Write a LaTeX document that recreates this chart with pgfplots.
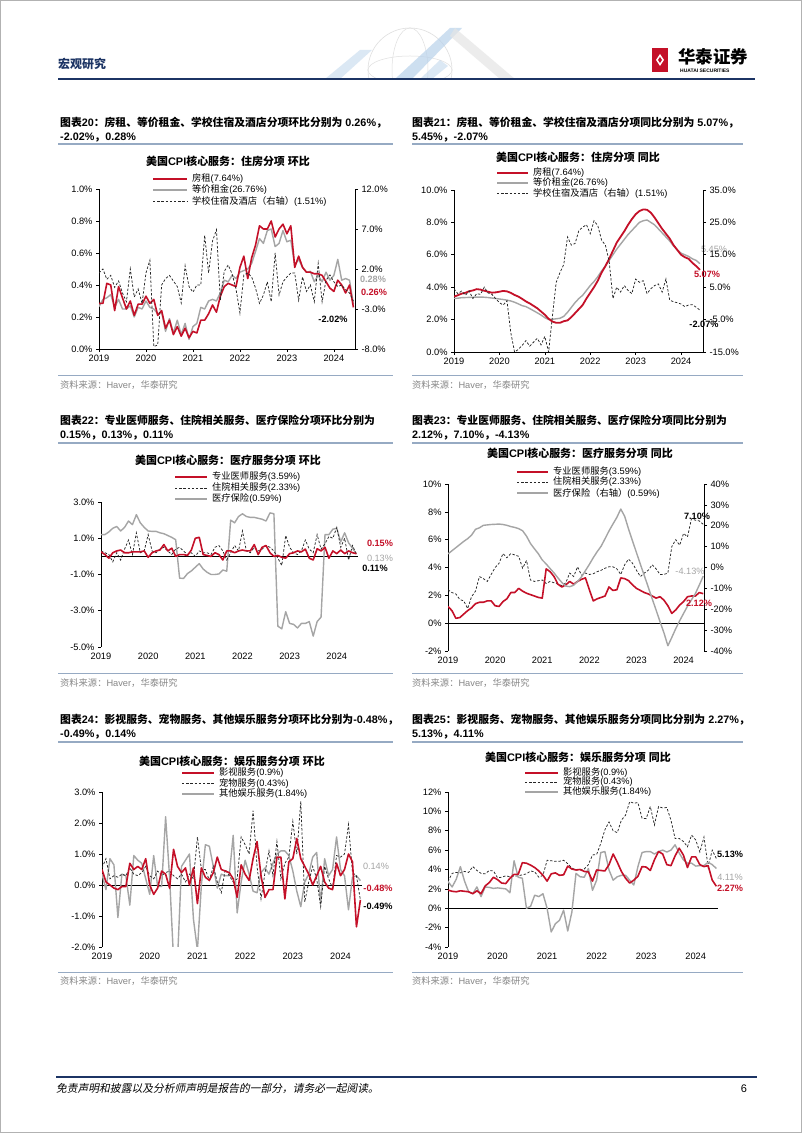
\documentclass[border=0pt]{standalone}
\usepackage{fontspec}
\setmainfont{Liberation Sans}
\newfontfamily\lat{Liberation Sans}
\newfontfamily\cjk[ItalicFont={Noto Sans CJK SC},ItalicFeatures={FakeSlant=0.2}]{Noto Sans CJK SC}
\usepackage{pgfplots}
\usepackage{pgfplotstable}
\pgfplotsset{compat=1.18}
\XeTeXinterchartokenstate=1
\newXeTeXintercharclass\CJKcls
\newcount\cc
\cc="3000 \loop\ifnum\cc<"3040 \XeTeXcharclass\cc=\CJKcls \advance\cc 1 \repeat
\cc="4E00 \loop\ifnum\cc<"A000 \XeTeXcharclass\cc=\CJKcls \advance\cc 1 \repeat
\cc="FF00 \loop\ifnum\cc<"FFF0 \XeTeXcharclass\cc=\CJKcls \advance\cc 1 \repeat
\XeTeXinterchartoks 0 \CJKcls = {\cjk}
\XeTeXinterchartoks 4095 \CJKcls = {\cjk}
\XeTeXinterchartoks \CJKcls 0 = {\lat}
\XeTeXinterchartoks \CJKcls 4095 = {\lat}

\definecolor{hred}{RGB}{196,16,40}
\definecolor{hgray}{RGB}{165,165,165}
\definecolor{navy}{RGB}{28,52,100}
\definecolor{capline}{RGB}{150,170,195}
\definecolor{srcgray}{RGB}{135,135,135}
\definecolor{lblue}{RGB}{185,210,235}

\newcommand{\capf}{\bfseries\fontsize{10.85}{12}\selectfont}
\newcommand{\titf}{\bfseries\fontsize{11}{12}\selectfont}
\newcommand{\legf}{\fontsize{9.3}{10}\selectfont}
\newcommand{\srcf}{\fontsize{9.3}{10}\selectfont}
\newcommand{\valf}{\bfseries\fontsize{9.2}{10}\selectfont}
\newcommand{\valr}{\fontsize{9.2}{10}\selectfont}

\tikzset{redline/.style={color=hred, line width=1.6bp, line join=round},
grayline/.style={color=hgray, line width=1.4bp, line join=round},
dashline/.style={color=black!85, line width=0.75bp, dash pattern=on 2.4bp off 1.8bp}}

\pgfplotsset{
hb/.style={scale only axis, xmin=0, xmax=65.4,
 xtick={0,12,24,36,48,60}, xticklabels={2019,2020,2021,2022,2023,2024},
 axis x line*=bottom, axis y line*=left, axis line style={-,black,line width=0.7bp},
 tick align=outside, major tick length=3bp, tick style={black,line width=0.6bp},
 tick label style={font=\fontsize{9.3}{10}\selectfont, black}, clip=true},
hr/.style={scale only axis, xmin=0, xmax=65.4, axis x line=none, axis y line*=right,
 axis line style={-,black,line width=0.7bp},
 tick align=outside, major tick length=3bp, tick style={black,line width=0.6bp},
 tick label style={font=\fontsize{9.3}{10}\selectfont, black}, clip=true},
zl/.style={x axis line style={draw=none}, xtick style={draw=none},
 extra y ticks={0}, extra y tick labels={}, extra y tick style={grid=major, major grid style={black,line width=0.8bp}, tick style={draw=none}}}
}

\newcommand{\legrow}[5]{\draw[#4] (#1,1133-#3) -- (#2,1133-#3);
 \node[anchor=west,inner sep=0pt,font=\legf] at (#2+5,1133-#3) {#5};}

% ---------- data (month index 0 = Jan 2019) ----------
\pgfplotstableread{
m a b c
0 0.285 0.265 1.5
1 0.285 0.31 2.0
2 0.41 0.32 0.7
3 0.40 0.34 1.2
4 0.24 0.26 -0.3
5 0.39 0.31 0.5
6 0.32 0.25 -1.0
7 0.25 0.25 -2.1
8 0.30 0.27 2.0
9 0.21 0.20 -1.5
10 0.28 0.26 -0.5
11 0.28 0.25 -2.3
12 0.33 0.30 1.5
13 0.285 0.26 3.1
14 0.31 0.25 -7.7
15 0.21 0.22 -7.5
16 0.24 0.23 0.0
17 0.13 0.11 0.8
18 0.18 0.19 1.2
19 0.09 0.10 0.5
20 0.14 0.18 -0.2
21 0.08 0.09 -2.25
22 0.13 0.16 2.4
23 0.07 0.06 -0.2
24 0.11 0.14 -0.9
25 0.10 0.16 0.0
26 0.18 0.26 0.0
27 0.18 0.25 6.2
28 0.22 0.30 1.5
29 0.275 0.31 5.5
30 0.23 0.30 6.9
31 0.33 0.35 -1.9
32 0.39 0.43 1.7
33 0.41 0.42 2.5
34 0.40 0.46 1.4
35 0.39 0.44 -0.5
36 0.51 0.48 -3.5
37 0.58 0.49 1.25
38 0.44 0.50 1.5
39 0.57 0.535 1.0
40 0.65 0.61 -0.4
41 0.77 0.69 -2.3
42 0.75 0.66 -1.25
43 0.75 0.74 0.4
44 0.80 0.75 -2.1
45 0.70 0.64 4.0
46 0.75 0.66 -1.25
47 0.78 0.74 0.4
48 0.72 0.67 1.0
49 0.77 0.68 1.5
50 0.51 0.525 1.5
51 0.58 0.56 -1.9
52 0.51 0.51 1.0
53 0.48 0.48 -0.8
54 0.48 0.485 0.0
55 0.47 0.42 -2.1
56 0.47 0.46 2.7
57 0.46 0.42 -2.1
58 0.42 0.48 0.6
59 0.38 0.43 1.25
60 0.36 0.46 0.4
61 0.43 0.56 -0.2
62 0.40 0.43 0.0
63 0.35 0.44 -0.6
64 0.40 0.43 -1.0
65 0.26 0.28 -2.02
}\tA

\pgfplotstableread{
m a b c
0 3.42 3.30 4.5
1 3.50 3.32 3.0
2 3.60 3.35 3.8
3 3.65 3.36 2.5
4 3.75 3.37 3.8
5 3.80 3.38 1.5
6 3.88 3.39 3.0
7 3.85 3.39 2.8
8 3.78 3.38 5.0
9 3.72 3.36 3.2
10 3.66 3.33 2.8
11 3.68 3.30 1.5
12 3.72 3.27 0.2
13 3.77 3.24 -0.5
14 3.74 3.20 0.8
15 3.65 3.15 -9.0
16 3.52 3.07 -15.0
17 3.42 2.97 -14.2
18 3.28 2.86 -13.0
19 3.12 2.80 -11.5
20 3.00 2.68 -13.2
21 2.85 2.55 -12.0
22 2.70 2.42 -10.8
23 2.50 2.28 -12.8
24 2.30 2.12 -10.2
25 2.05 2.00 -15.0
26 1.88 2.02 -4.0
27 1.80 2.05 6.5
28 1.80 2.08 9.5
29 1.90 2.20 12.0
30 1.95 2.45 20.5
31 2.15 2.75 18.0
32 2.40 3.05 18.5
33 2.65 3.30 22.5
34 2.90 3.50 23.5
35 3.30 3.80 24.3
36 3.65 4.10 21.5
37 4.00 4.35 25.5
38 4.40 4.65 24.0
39 4.90 5.00 19.5
40 5.30 5.30 18.0
41 5.75 5.65 13.0
42 6.25 6.00 1.5
43 6.75 6.35 5.0
44 7.10 6.65 3.5
45 7.45 6.95 5.5
46 7.85 7.25 4.0
47 8.20 7.50 3.0
48 8.50 7.75 7.5
49 8.70 8.00 6.5
50 8.80 8.10 7.0
51 8.78 8.15 3.0
52 8.60 8.00 4.5
53 8.30 7.85 5.5
54 7.95 7.60 6.0
55 7.60 7.35 3.5
56 7.30 7.10 7.5
57 7.00 6.85 1.0
58 6.60 6.55 0.5
59 6.30 6.30 0.2
60 6.00 6.10 -0.2
61 5.85 6.00 -1.0
62 5.75 5.90 -0.5
63 5.50 5.75 -0.4
64 5.30 5.65 -1.2
65 5.07 5.45 -2.07
}\tB

\pgfplotstableread{
m a b c
0 0.25 0.3 1.2
1 0.1 0.2 1.2
2 -0.1 0.1 1.35
3 0.2 -0.3 1.55
4 0.3 0.2 1.65
5 0.35 -0.2 1.4
6 0.2 0.4 1.6
7 0.2 0.9 1.95
8 0.25 0.1 1.75
9 0.25 1.3 2.3
10 0.25 0.2 1.85
11 0.3 0.3 1.6
12 -0.05 1.2 1.4
13 0.2 0.3 1.38
14 0.3 0.2 1.38
15 0.35 0.4 1.3
16 0.65 0.5 1.25
17 0.3 0.3 1.15
18 0.45 0.1 1.05
19 0.0 0.4 0.92
20 0.1 0.5 -1.2
21 0.1 0.3 -1.22
22 0.05 0.1 -0.95
23 0.35 0.2 -0.8
24 1.0 0.0 -0.6
25 1.05 0.3 -0.4
26 0.1 0.2 -0.7
27 0.05 0.2 -0.88
28 0.0 0.1 -1.0
29 0.2 0.5 -1.0
30 0.1 0.6 -0.97
31 -0.2 0.3 -0.75
32 0.3 -0.2 -0.82
33 0.3 0.2 2.0
34 0.2 0.6 1.85
35 0.3 0.3 2.2
36 0.35 1.4 2.35
37 0.3 0.3 2.2
38 0.3 0.2 2.15
39 0.65 0.5 2.15
40 0.1 0.3 2.1
41 0.5 0.4 2.05
42 0.6 0.6 1.95
43 0.2 0.5 2.4
44 0.0 0.3 2.35
45 0.05 -0.1 -3.85
46 -0.05 -0.5 -4.0
47 -0.1 1.15 -3.05
48 0.15 0.5 -3.7
49 0.2 0.2 -3.75
50 0.3 0.1 -3.95
51 0.25 0.3 -3.7
52 0.4 0.9 -3.7
53 -0.1 0.4 -3.6
54 -0.2 0.2 -4.4
55 0.42 1.2 -3.6
56 0.3 0.4 -3.35
57 0.5 0.7 1.2
58 -0.1 1.1 1.2
59 0.3 1.0 1.5
60 0.15 1.6 1.55
61 0.35 0.5 0.8
62 0.15 1.0 1.3
63 0.3 -0.2 0.75
64 0.2 0.6 0.45
65 0.15 0.11 0.13
}\tC

\pgfplotstableread{
m a b c
0 1.2 2.4 6.5
1 0.9 2.2 8.0
2 0.35 2.1 9.5
3 0.4 1.7 11.0
4 0.65 1.6 12.5
5 0.9 1.05 13.8
6 1.1 1.9 15.5
7 1.4 2.3 18.3
8 1.5 3.35 19.0
9 1.5 3.2 20.2
10 1.6 3.0 20.4
11 1.6 3.5 20.6
12 1.25 4.0 20.7
13 1.2 4.3 20.8
14 1.55 5.0 20.6
15 1.75 4.7 20.2
16 2.2 5.0 19.6
17 2.2 4.9 19.2
18 2.5 4.8 18.6
19 2.3 3.95 17.6
20 2.15 4.5 15.0
21 2.05 3.1 11.5
22 1.95 3.0 9.0
23 1.85 3.05 6.6
24 1.8 3.1 3.6
25 3.9 2.85 1.7
26 3.7 3.0 -0.5
27 3.35 2.9 -2.6
28 2.8 2.8 -5.0
29 2.6 2.7 -7.2
30 2.75 2.9 -8.9
31 3.0 3.6 -9.2
32 2.8 3.35 -8.5
33 3.0 4.05 -6.7
34 3.15 3.45 -4.5
35 3.25 3.6 -1.5
36 2.4 3.5 1.5
37 1.6 3.55 4.7
38 1.75 3.7 7.6
39 1.85 3.8 10.2
40 1.95 3.95 13.8
41 2.6 4.05 17.5
42 2.35 4.05 20.8
43 2.4 3.9 24.0
44 3.25 3.5 28.0
45 3.2 4.2 24.5
46 3.05 4.6 18.3
47 2.75 4.3 12.7
48 2.5 3.8 7.1
49 2.35 3.35 1.5
50 2.2 3.6 -3.9
51 2.1 3.8 -9.4
52 1.95 4.2 -15.0
53 1.8 3.9 -20.4
54 1.9 3.5 -26.0
55 1.65 3.5 -31.3
56 1.25 3.6 -37.5
57 0.7 5.5 -33.5
58 0.95 6.0 -29.3
59 1.3 5.6 -25.5
60 1.55 6.45 -22.0
61 1.9 6.2 -18.5
62 1.95 7.5 -15.5
63 1.95 7.4 -12.5
64 2.2 7.35 -8.4
65 2.12 7.10 -4.13
}\tD

\pgfplotstableread{
m a b c
0 0.5 0.55 0.35
1 0.1 0.85 -0.15
2 0.0 0.2 0.85
3 -0.1 0.3 0.65
4 -0.15 0.25 -1.05
5 -0.05 0.35 0.35
6 -0.05 0.3 0.3
7 0.7 0.55 -0.65
8 0.5 0.35 0.95
9 0.6 0.3 0.8
10 0.5 0.4 0.7
11 0.85 0.6 0.2
12 0.0 0.3 -0.3
13 -0.3 0.2 0.95
14 -0.1 0.45 -0.05
15 0.45 0.3 -0.05
16 0.35 0.4 2.2
17 -0.1 0.45 0.25
18 1.15 0.3 -2.4
19 0.6 0.2 -2.4
20 0.4 0.35 0.6
21 0.55 0.1 0.8
22 0.0 0.35 1.0
23 0.55 0.2 -1.1
24 -0.6 1.55 -2.1
25 0.55 0.5 0.0
26 0.25 0.5 1.3
27 0.15 0.15 1.25
28 0.4 0.6 0.6
29 0.9 0.1 -0.1
30 0.5 -0.25 0.35
31 0.45 0.5 0.3
32 0.4 0.3 0.3
33 0.2 0.1 1.6
34 -0.4 0.2 -0.9
35 0.65 1.55 0.1
36 0.35 1.3 0.8
37 0.15 1.0 0.35
38 0.85 2.4 -0.2
39 1.4 0.6 -0.25
40 0.3 -0.45 0.4
41 -0.4 0.4 0.55
42 -0.15 1.1 0.35
43 -0.15 0.3 0.7
44 0.9 1.4 1.0
45 0.9 0.2 1.1
46 -0.45 0.7 1.1
47 0.75 0.9 0.95
48 0.85 2.05 0.45
49 1.5 1.0 -0.2
50 0.85 2.7 -0.7
51 0.6 -0.55 0.1
52 0.35 0.1 0.35
53 0.0 0.6 0.9
54 0.3 0.2 1.05
55 0.6 -0.7 -0.6
56 0.1 0.6 0.85
57 -0.1 0.2 0.3
58 -0.15 -0.1 0.5
59 0.7 0.95 1.55
60 0.3 0.9 0.5
61 0.5 1.0 0.3
62 1.0 1.95 -0.8
63 0.75 0.4 0.25
64 -1.35 0.3 0.3
65 -0.48 -0.49 0.14
}\tE

\pgfplotstableread{
m a b c
0 1.87 2.75 2.75
1 1.75 3.6 2.2
2 1.7 3.7 3.0
3 1.8 3.65 4.3
4 1.75 3.8 2.8
5 1.7 3.7 1.7
6 1.5 4.3 1.5
7 1.8 3.9 2.2
8 1.5 3.6 1.2
9 2.3 3.55 2.2
10 2.65 3.9 2.15
11 3.2 3.85 2.05
12 2.95 3.15 2.1
13 2.6 3.2 2.05
14 2.55 3.35 2.0
15 3.1 3.25 1.6
16 3.5 3.3 4.9
17 3.5 3.35 3.2
18 4.7 3.45 3.1
19 4.65 3.55 0.0
20 4.45 3.85 0.2
21 4.2 3.75 1.35
22 3.85 3.2 1.2
23 3.4 3.4 1.5
24 2.8 4.95 0.0
25 3.55 4.9 -2.45
26 3.65 4.85 -1.6
27 3.4 4.85 -1.25
28 3.45 4.95 -0.2
29 4.35 4.6 -2.35
30 4.05 4.15 -0.4
31 3.95 3.95 3.6
32 4.0 3.95 3.25
33 3.8 4.05 3.2
34 3.75 4.5 4.1
35 2.8 5.5 1.85
36 3.95 5.55 2.9
37 3.9 6.7 5.75
38 3.85 8.1 5.85
39 4.5 8.9 3.95
40 5.6 8.0 2.9
41 4.75 7.8 3.25
42 3.8 9.1 3.4
43 3.1 9.6 3.4
44 2.6 11.0 2.9
45 2.9 10.85 2.4
46 3.3 10.9 4.3
47 4.3 9.3 5.75
48 4.25 9.25 5.85
49 3.9 10.5 5.85
50 5.0 8.6 5.6
51 5.85 10.5 5.85
52 5.6 10.35 6.0
53 4.5 10.4 5.8
54 4.4 9.1 6.0
55 5.4 7.2 6.55
56 6.2 7.2 5.7
57 5.5 6.9 5.0
58 4.2 6.35 4.65
59 5.3 7.55 4.65
60 5.3 7.05 4.35
61 4.5 5.8 4.4
62 4.3 7.35 4.4
63 4.4 4.3 4.75
64 2.9 6.0 4.5
65 2.27 5.13 4.11
}\tF

\begin{document}
\begin{tikzpicture}[x=1bp,y=1bp]
\path[use as bounding box] (0,0) rectangle (802,1133);
\fill[white] (0,0) rectangle (802,1133);
\draw[gray!60, line width=1bp] (0.5,0.5) rectangle (801.5,1132.5);

% ---------- header ----------
\begin{scope}
\clip (300,1133-79) rectangle (540,1133-15);
\draw[gray!25, line width=0.6bp] (410,1133-70) circle (42);
\draw[gray!25, line width=0.5bp] (410,1133-70) ellipse (42 and 14);
\draw[gray!25, line width=0.5bp] (410,1133-70) ellipse (18 and 42);
\fill[lblue, opacity=0.5] (325,1133-79) -- (360,1133-50) -- (372,1133-50) -- (340,1133-79) -- cycle;
\fill[lblue, opacity=0.7] (395,1133-79) -- (450,1133-28) -- (462,1133-28) -- (412,1133-79) -- cycle;
\fill[gray!20, opacity=0.7] (455,1133-28) -- (515,1133-79) -- (500,1133-79) -- (450,1133-36) -- cycle;
\fill[lblue, opacity=0.5] (420,1133-79) -- (440,1133-60) -- (448,1133-66) -- (432,1133-79) -- cycle;
\end{scope}
\node[anchor=west, inner sep=0pt, text=navy, font=\bfseries\fontsize{12}{13}\selectfont] at (58,1133-64) {宏观研究};
\fill[hred] (652,1133-72) rectangle (668,1133-48);
\fill[white] (656,1133-60) -- (660,1133-54) -- (664,1133-60) -- (660,1133-66) -- cycle;
\fill[hred] (658,1133-60) -- (660,1133-57) -- (662,1133-60) -- (660,1133-63) -- cycle;
\node[anchor=west, inner sep=0pt, font=\bfseries\fontsize{17.5}{18}\selectfont] at (678,1133-57) {华泰证券};
\node[anchor=west, inner sep=0pt, font=\bfseries\fontsize{5}{5}\selectfont] at (680,1133-70.5) {HUATAI SECURITIES};
\draw[navy, line width=2bp] (58,1133-79) -- (755,1133-79);

% ---------- footer ----------
\draw[navy, line width=2bp] (56,1133-1077) -- (757,1133-1077);
\node[anchor=west, inner sep=0pt, font=\itshape\fontsize{10.8}{12}\selectfont] at (56,1133-1089) {免责声明和披露以及分析师声明是报告的一部分，请务必一起阅读。};
\node[inner sep=0pt, font=\fontsize{11}{12}\selectfont] at (744,1133-1089) {6};

% ---------- captions ----------
\node[anchor=west, inner sep=0pt, font=\capf] at (60,1133-123) {图表20：房租、等价租金、学校住宿及酒店分项环比分别为 0.26\%，};
\node[anchor=west, inner sep=0pt, font=\capf] at (60,1133-138) {-2.02\%，0.28\%};
\node[anchor=west, inner sep=0pt, font=\capf] at (412,1133-123) {图表21：房租、等价租金、学校住宿及酒店分项同比分别为 5.07\%，};
\node[anchor=west, inner sep=0pt, font=\capf] at (412,1133-138) {5.45\%，-2.07\%};
\node[anchor=west, inner sep=0pt, font=\capf] at (60,1133-420) {图表22：专业医师服务、住院相关服务、医疗保险分项环比分别为};
\node[anchor=west, inner sep=0pt, font=\capf] at (60,1133-436) {0.15\%，0.13\%，0.11\%};
\node[anchor=west, inner sep=0pt, font=\capf] at (412,1133-420) {图表23：专业医师服务、住院相关服务、医疗保险分项同比分别为};
\node[anchor=west, inner sep=0pt, font=\capf] at (412,1133-436) {2.12\%，7.10\%，-4.13\%};
\node[anchor=west, inner sep=0pt, font=\capf] at (60,1133-720) {图表24：影视服务、宠物服务、其他娱乐服务分项环比分别为-0.48\%，};
\node[anchor=west, inner sep=0pt, font=\capf] at (60,1133-735) {-0.49\%，0.14\%};
\node[anchor=west, inner sep=0pt, font=\capf] at (412,1133-720) {图表25：影视服务、宠物服务、其他娱乐服务分项同比分别为 2.27\%，};
\node[anchor=west, inner sep=0pt, font=\capf] at (412,1133-735) {5.13\%，4.11\%};
\foreach \yy in {144,443,742} {
 \draw[capline, line width=1.2bp] (58,1133-\yy) -- (393,1133-\yy);
 \draw[capline, line width=1.2bp] (412,1133-\yy) -- (743,1133-\yy);}
\foreach \yy/\ty in {376/385,674/683,973/981} {
 \draw[capline, line width=1bp] (58,1133-\yy) -- (393,1133-\yy);
 \draw[capline, line width=1bp] (412,1133-\yy) -- (743,1133-\yy);
 \node[anchor=west, inner sep=0pt, text=srcgray, font=\srcf] at (60,1133-\ty) {资料来源：Haver，华泰研究};
 \node[anchor=west, inner sep=0pt, text=srcgray, font=\srcf] at (412,1133-\ty) {资料来源：Haver，华泰研究};}

% ---------- titles ----------
\node[font=\titf, inner sep=0pt] at (228,1133-161) {美国CPI核心服务：住房分项 环比};
\node[font=\titf, inner sep=0pt] at (578,1133-157) {美国CPI核心服务：住房分项 同比};
\node[font=\titf, inner sep=0pt] at (228,1133-460) {美国CPI核心服务：医疗服务分项 环比};
\node[font=\titf, inner sep=0pt] at (580,1133-453) {美国CPI核心服务：医疗服务分项 同比};
\node[font=\titf, inner sep=0pt] at (232,1133-761) {美国CPI核心服务：娱乐服务分项 环比};
\node[font=\titf, inner sep=0pt] at (578,1133-757) {美国CPI核心服务：娱乐服务分项 同比};

% ---------- legends ----------
\legrow{153}{187}{179}{redline}{房租(7.64\%)}
\legrow{153}{187}{190}{grayline}{等价租金(26.76\%)}
\legrow{153}{187}{201.5}{dashline}{学校住宿及酒店（右轴）(1.51\%)}
\legrow{497}{528}{173}{redline}{房租(7.64\%)}
\legrow{497}{528}{183}{grayline}{等价租金(26.76\%)}
\legrow{497}{528}{193.5}{dashline}{学校住宿及酒店（右轴）(1.51\%)}
\legrow{175}{207}{477}{redline}{专业医师服务(3.59\%)}
\legrow{175}{207}{488}{dashline}{住院相关服务(2.33\%)}
\legrow{175}{207}{499}{grayline}{医疗保险(0.59\%)}
\legrow{517}{548}{472}{redline}{专业医师服务(3.59\%)}
\legrow{517}{548}{482}{dashline}{住院相关服务(2.33\%)}
\legrow{517}{548}{493}{grayline}{医疗保险（右轴）(0.59\%)}
\legrow{182}{214}{773}{redline}{影视服务(0.9\%)}
\legrow{182}{214}{783.5}{dashline}{宠物服务(0.43\%)}
\legrow{182}{214}{794}{grayline}{其他娱乐服务(1.84\%)}
\legrow{525}{558}{773}{redline}{影视服务(0.9\%)}
\legrow{525}{558}{782}{dashline}{宠物服务(0.43\%)}
\legrow{525}{558}{792}{grayline}{其他娱乐服务(1.84\%)}

% ---------- chart 20 ----------
\begin{axis}[hb, at={(99bp,784bp)}, anchor=south west, width=256bp, height=160bp,
 ymin=0, ymax=1.0, ytick={0,0.2,0.4,0.6,0.8,1.0},
 yticklabels={0.0\%,0.2\%,0.4\%,0.6\%,0.8\%,1.0\%}]
\addplot[grayline] table[x=m,y=b]{\tA};
\addplot[redline] table[x=m,y=a]{\tA};
\end{axis}
\begin{axis}[hr, at={(99bp,784bp)}, anchor=south west, width=256bp, height=160bp,
 ymin=-8, ymax=12, ytick={-8,-3,2,7,12},
 yticklabels={-8.0\%,-3.0\%,2.0\%,7.0\%,12.0\%}]
\addplot[dashline] table[x=m,y=c]{\tA};
\end{axis}
\node[font=\valf, text=hgray, inner sep=0pt] at (373,1133-279) {0.28\%};
\node[font=\valf, text=hred, inner sep=0pt] at (374,1133-292) {0.26\%};
\node[font=\valf, inner sep=0pt] at (333,1133-319) {-2.02\%};

% ---------- chart 21 ----------
\begin{axis}[hb, at={(454bp,781bp)}, anchor=south west, width=249bp, height=162bp, xmax=65.8,
 ymin=0, ymax=10, ytick={0,2,4,6,8,10},
 yticklabels={0.0\%,2.0\%,4.0\%,6.0\%,8.0\%,10.0\%}]
\addplot[grayline] table[x=m,y=b]{\tB};
\addplot[redline, line width=1.8bp] table[x=m,y=a]{\tB};
\end{axis}
\node[font=\valr, text=hgray, inner sep=0pt] at (714,1133-249) {5.45\%};
\begin{axis}[hr, at={(454bp,781bp)}, anchor=south west, width=249bp, height=162bp, xmax=65.8,
 ymin=-15, ymax=35, ytick={-15,-5,5,15,25,35},
 yticklabels={-15.0\%,-5.0\%,5.0\%,15.0\%,25.0\%,35.0\%}]
\addplot[dashline] table[x=m,y=c]{\tB};
\end{axis}
\node[font=\valf, text=hred, inner sep=0pt] at (707,1133-274) {5.07\%};
\node[font=\valf, inner sep=0pt] at (704,1133-324) {-2.07\%};

% ---------- chart 22 ----------
\begin{axis}[hb, zl, at={(101bp,486bp)}, anchor=south west, width=257bp, height=145bp,
 ymin=-5, ymax=3, ytick={-5,-3,-1,1,3},
 yticklabels={-5.0\%,-3.0\%,-1.0\%,1.0\%,3.0\%}]
\addplot[grayline] table[x=m,y=c]{\tC};
\addplot[dashline] table[x=m,y=b]{\tC};
\addplot[redline] table[x=m,y=a]{\tC};
\end{axis}
\node[font=\valf, text=hred, inner sep=0pt] at (380,1133-543) {0.15\%};
\node[font=\valr, text=hgray, inner sep=0pt] at (380,1133-558) {0.13\%};
\node[font=\valf, inner sep=0pt] at (375,1133-568) {0.11\%};

% ---------- chart 23 ----------
\begin{axis}[hb, zl, at={(448bp,482bp)}, anchor=south west, width=256bp, height=167bp, xmax=65.2,
 ymin=-2, ymax=10, ytick={-2,0,2,4,6,8,10},
 yticklabels={-2\%,0\%,2\%,4\%,6\%,8\%,10\%}]
\addplot[dashline] table[x=m,y=b]{\tD};
\addplot[redline] table[x=m,y=a]{\tD};
\end{axis}
\begin{axis}[hr, at={(448bp,482bp)}, anchor=south west, width=256bp, height=167bp, xmax=65.2,
 ymin=-40, ymax=40, ytick={-40,-30,-20,-10,0,10,20,30,40},
 yticklabels={-40\%,-30\%,-20\%,-10\%,0\%,10\%,20\%,30\%,40\%}]
\addplot[grayline] table[x=m,y=c]{\tD};
\end{axis}
\node[font=\valf, inner sep=0pt] at (697,1133-516) {7.10\%};
\node[font=\valr, text=hgray, inner sep=0pt] at (690,1133-571) {-4.13\%};
\node[font=\valf, text=hred, inner sep=0pt] at (699,1133-603) {2.12\%};

% ---------- chart 24 ----------
\begin{axis}[hb, zl, at={(102bp,186bp)}, anchor=south west, width=260bp, height=155bp,
 ymin=-2, ymax=3, ytick={-2,-1,0,1,2,3},
 yticklabels={-2.0\%,-1.0\%,0.0\%,1.0\%,2.0\%,3.0\%}]
\addplot[grayline] table[x=m,y=c]{\tE};
\addplot[dashline] table[x=m,y=b]{\tE};
\addplot[redline] table[x=m,y=a]{\tE};
\end{axis}
\node[font=\valr, text=hgray, inner sep=0pt] at (376,1133-866) {0.14\%};
\node[font=\valf, text=hred, inner sep=0pt] at (378,1133-888) {-0.48\%};
\node[font=\valf, inner sep=0pt] at (378,1133-906) {-0.49\%};

% ---------- chart 25 ----------
\begin{axis}[hb, zl, at={(448bp,186bp)}, anchor=south west, width=270bp, height=155bp,
 ymin=-4, ymax=12, ytick={-4,-2,0,2,4,6,8,10,12},
 yticklabels={-4\%,-2\%,0\%,2\%,4\%,6\%,8\%,10\%,12\%}]
\addplot[dashline] table[x=m,y=b]{\tF};
\addplot[grayline] table[x=m,y=c]{\tF};
\addplot[redline] table[x=m,y=a]{\tF};
\end{axis}
\node[font=\valf, inner sep=0pt] at (730,1133-854) {5.13\%};
\node[font=\valr, text=hgray, inner sep=0pt] at (730,1133-877) {4.11\%};
\node[font=\valf, text=hred, inner sep=0pt] at (730,1133-888) {2.27\%};
\end{tikzpicture}
\end{document}
